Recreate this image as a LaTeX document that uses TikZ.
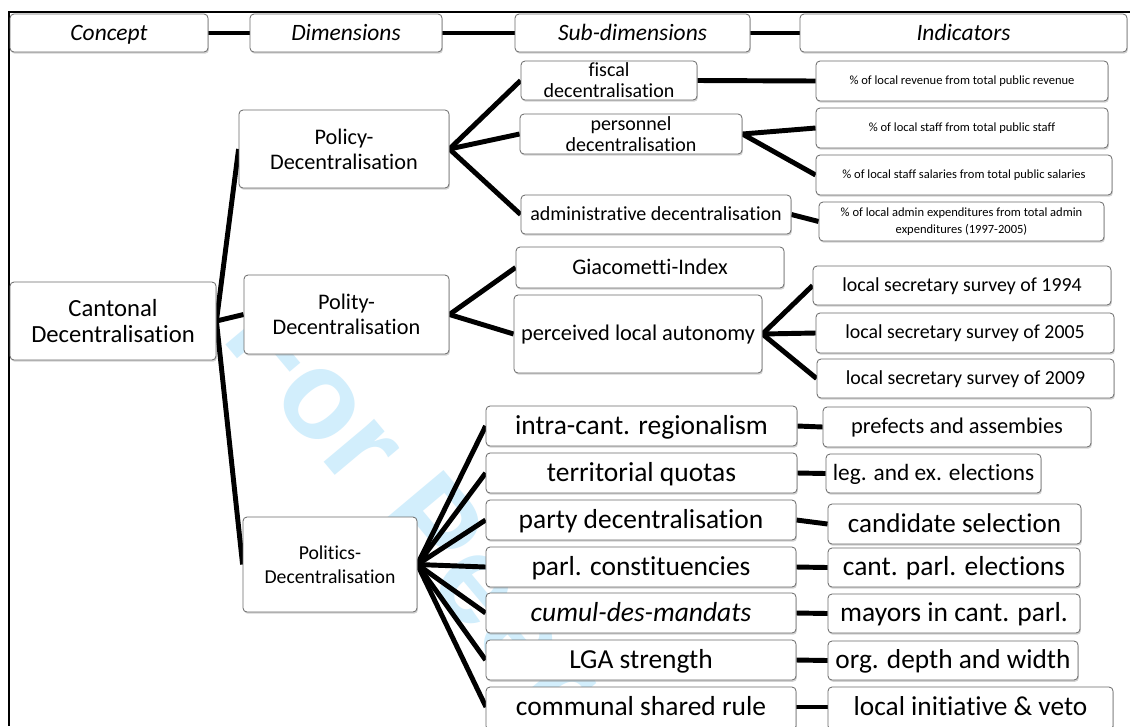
\documentclass[tikz,border=0pt]{standalone}
\usepackage{fontspec}
\setmainfont{Carlito}[Ligatures=NoCommon]
\newfontfamily\wmfont{Liberation Sans}
\usetikzlibrary{shadows,backgrounds}
\definecolor{boxline}{RGB}{105,105,105}
\definecolor{wmcol}{RGB}{210,238,252}
\newcommand\fs[2]{\fontsize{#1}{#2}\selectfont}
% single-line box: name, x1, y1, x2, y2, size(pt), extra font, text
\newcommand\bx[8]{%
  \node[box, minimum width={(#4-#2)*0.75pt}, minimum height={(#5-#3)*0.75pt}] (#1) at ({(#2+#4)/2},{(#3+#5)/2}) {};
  \node[lbl, anchor=base, font=\fs{#6}{#6}#7] (#1-t) at ({(#2+#4)/2},{(#3+#5)/2+0.4*#6}) {#8};}
% multi-line box
\newcommand\bxm[7]{%
  \node[box, minimum width={(#4-#2)*0.75pt}, minimum height={(#5-#3)*0.75pt}] (#1) at ({(#2+#4)/2},{(#3+#5)/2}) {};
  \node[lbl, font=#6] (#1-t) at (#1.center) {#7};}
\begin{document}
\begin{tikzpicture}[x=0.75pt,y=-0.75pt,
  box/.style={draw=boxline, line width=0.6pt, fill=white, rounded corners=3pt, inner sep=0pt,
    drop shadow={shadow xshift=0.7pt, shadow yshift=-1.3pt, opacity=0.35}},
  lbl/.style={inner sep=0pt, align=center, text=black},
  conn/.style={line width=3.7pt, black},
  frame/.style={line width=1.5pt, black}]
\useasboundingbox (0,0) rectangle (1130,726);

% header
\bx{concept}{10}{14}{208}{52}{17.6}{\itshape}{Concept}
\bx{dims}{250}{14}{442}{52}{17.6}{\itshape}{Dimensions}
\bx{subdims}{515}{14}{750}{52}{17.6}{\itshape}{Sub-dimensions}
\bx{inds}{800}{14}{1127}{52}{17.6}{\itshape}{Indicators}

% concept and dimensions
\bxm{cant}{10}{282}{216}{360}{\fs{18.5}{19.5}}{Cantonal\\Decentralisation}
\bxm{policy}{239}{110}{449}{188}{\fs{16.7}{18.75}}{Policy-\\Decentralisation}
\bxm{polity}{244}{275}{449}{354}{\fs{16.7}{18.75}}{Polity-\\Decentralisation}
\bxm{politics}{243}{517}{417}{612}{\fs{14.8}{18}}{Politics-\\Decentralisation}

% policy sub-dimensions
\bxm{fiscal}{521}{61}{697}{100}{\fs{15}{15.75}}{fiscal\\decentralisation}
\bxm{personnel}{520}{114}{742}{154}{\fs{15}{15.75}}{personnel\\decentralisation}
\bx{admin}{521}{195}{791}{234}{15}{}{administrative decentralisation}
% polity sub-dimensions
\bx{giac}{516}{247}{784}{288}{16.7}{}{Giacometti-Index}
\bx{perceived}{514}{295}{762}{373}{16.8}{}{perceived local autonomy}

% policy indicators
\bx{rev}{816}{61}{1108}{101}{9.4}{}{\% of local revenue from total public revenue}
\bx{staff}{816}{108}{1108}{148}{9.4}{}{\% of local staff from total public staff}
\bx{sal}{816}{155}{1112}{195}{9.4}{}{\% of local staff salaries from total public salaries}
\bxm{adexp}{819}{202}{1104}{241}{\fs{9.4}{12.75}}{\% of local admin expenditures from total admin\\expenditures (1997-2005)}
% polity indicators
\bx{s94}{813}{266}{1111}{305}{14.9}{}{local secretary survey of 1994}
\bx{s05}{816}{313}{1114}{353}{14.9}{}{local secretary survey of 2005}
\bx{s09}{817}{359}{1114}{398}{14.9}{}{local secretary survey of 2009}

% politics sub-dimensions
\bx{intra}{486}{406}{797}{446}{20.6}{}{intra-cant. regionalism}
\bx{terr}{486}{453}{797}{493}{20.6}{}{territorial quotas}
\bx{party}{486}{500}{796}{540}{20.6}{}{party decentralisation}
\bx{parl}{486}{547}{796}{587}{20.6}{}{parl. constituencies}
\bx{cumul}{486}{593}{796}{633}{20.6}{\itshape}{cumul-des-mandats}
\bx{lga}{486}{640}{796}{680}{20.6}{}{LGA strength}
\node[box, minimum width={310*0.75pt}, minimum height={43*0.75pt}] (comm) at (641,708.5) {};
\node[lbl, anchor=base, font=\fs{20.6}{20.6}] (comm-t) at (641,715.2) {communal shared rule};

% politics indicators
\bx{pref}{823}{407}{1091}{447}{16.8}{}{prefects and assembies}
\bx{leg}{826}{454}{1041}{493}{17.5}{}{leg. and ex. elections}
\bx{cand}{828}{504}{1081}{544}{20.3}{}{candidate selection}
\bx{cpe}{828}{548}{1080}{587}{20.6}{}{cant. parl. elections}
\bx{may}{828}{594}{1080}{633}{20.6}{}{mayors in cant. parl.}
\bx{org}{828}{641}{1078}{680}{20.5}{}{org. depth and width}
\node[box, minimum width={285*0.75pt}, minimum height={43*0.75pt}] (loc) at (970.5,708.5) {};
\node[lbl, anchor=base, font=\fs{20.5}{20.5}] (loc-t) at (970.5,715.2) {local initiative \& veto};

\begin{pgfonlayer}{background}
  \fill[white] (0,0) rectangle (1130,726);
  \node[anchor=base west, rotate=-50, inner sep=0pt, text=wmcol,
        font=\wmfont\bfseries\fontsize{94}{94}\selectfont] (wmark) at (220,338) {For Peer Review};
  \coordinate (fa) at (1130,12);
  \coordinate (fb) at (9,12);
  \coordinate (fc) at (9,726);
  \draw[frame] (fa) -- (fb) -- (fc);
  % header chain
  \draw[conn] (concept.east) -- (dims.west);
  \draw[conn] (dims.east) -- (subdims.west);
  \draw[conn] (subdims.east) -- (inds.west);
  % concept to dimensions
  \draw[conn] (cant.east) -- (policy.west);
  \draw[conn] (cant.east) -- (polity.west);
  \draw[conn] (cant.east) -- (politics.west);
  % policy
  \draw[conn] (policy.east) -- (fiscal.west);
  \draw[conn] (policy.east) -- (personnel.west);
  \draw[conn] (policy.east) -- (admin.west);
  \draw[conn] (fiscal.east) -- (rev.west);
  \draw[conn] (personnel.east) -- (staff.west);
  \draw[conn] (personnel.east) -- (sal.west);
  \draw[conn] (admin.east) -- (adexp.west);
  % polity
  \draw[conn] (polity.east) -- (giac.west);
  \draw[conn] (polity.east) -- (perceived.west);
  \draw[conn] (perceived.east) -- (s94.west);
  \draw[conn] (perceived.east) -- (s05.west);
  \draw[conn] (perceived.east) -- (s09.west);
  % politics
  \foreach \s in {intra,terr,party,parl,cumul,lga}
    \draw[conn] (politics.east) -- (\s.west);
  \coordinate (commin) at (486,707);
  \coordinate (commout) at (796,707);
  \coordinate (locin) at (828,707);
  \draw[conn] (politics.east) -- (commin);
  \draw[conn] (intra.east) -- (pref.west);
  \draw[conn] (terr.east) -- (leg.west);
  \draw[conn] (party.east) -- (cand.west);
  \draw[conn] (parl.east) -- (cpe.west);
  \draw[conn] (cumul.east) -- (may.west);
  \draw[conn] (lga.east) -- (org.west);
  \draw[conn] (commout) -- (locin);
\end{pgfonlayer}
\end{tikzpicture}
\end{document}
